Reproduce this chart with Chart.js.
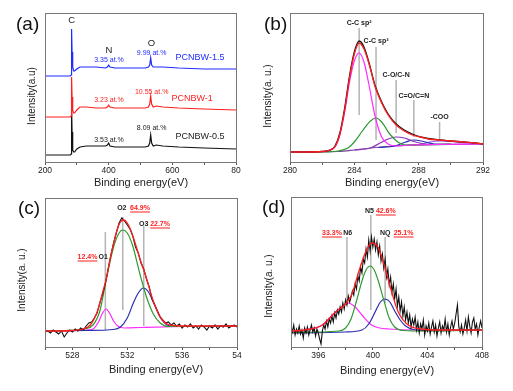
<!DOCTYPE html>
<html lang="en">
<head>
<meta charset="UTF-8">
<title>XPS spectra of PCNBW</title>
<script src="https://cdn.jsdelivr.net/npm/chart.js"></script>
<style>
  body { margin: 0; background: #fff; }
  #fig { position: relative; width: 513px; height: 391px; }
  canvas { position: absolute; }
</style>
</head>
<body>
<div id="fig">
  <canvas id="pa" width="256" height="195" style="left:0;top:0"></canvas>
  <canvas id="pb" width="257" height="195" style="left:256px;top:0"></canvas>
  <canvas id="pc" width="256" height="196" style="left:0;top:195px"></canvas>
  <canvas id="pd" width="257" height="196" style="left:256px;top:195px"></canvas>
</div>
<script>
const FONT = '"Liberation Sans", Arial, sans-serif';

// (a) survey spectra, intensity in arbitrary units
const surveyEnergy = [200, 260, 279, 282, 283, 284, 285, 287, 290, 293, 300, 310, 330, 360, 390, 396, 400, 404, 420, 470, 515, 525, 529, 532, 535, 540, 550, 570, 620, 700, 800];
const survey05 = [7, 7, 7, 8, 30, 55, 30, 12, 10, 10, 13, 15, 16, 16, 16, 17, 19, 16, 15, 15, 15, 16, 19, 27, 19, 16, 17, 16, 15, 14, 13];
const survey1 = [45, 45, 45, 46, 65, 85, 65, 52, 49, 49, 52, 55, 55, 54, 54, 55, 57, 55, 54, 54, 54, 55, 58, 66, 58, 55, 56, 55, 54, 53, 52];
const survey15 = [86, 86, 86, 87, 110, 133, 110, 95, 91, 91, 93, 95, 95, 95, 94, 95, 97, 95, 94, 94, 94, 95, 97, 104, 97, 95, 95, 95, 94, 93, 93];
const surveyTicks = [200, 400, 600, 800];
const surveyTickText = ['200', '400', '600', '80'];

// (b) C 1s
const c1sEnergy = [280, 281, 282, 282.5, 282.8, 283.1, 283.4, 283.7, 284.0, 284.3, 284.6, 284.9, 285.3, 285.7, 286.1, 286.6, 287.1, 287.6, 288.1, 288.6, 289.3, 290.0, 290.8, 291.5, 292];
const c1sRaw = [10, 10, 10.5, 12, 16, 29, 54, 86, 110, 121, 115, 100, 76, 60, 48, 38, 32, 28, 25, 23.5, 22, 21, 20, 19, 18];
const c1sFit = [10, 10, 10.5, 12, 15.5, 28, 52, 84, 108, 119, 113, 99, 75, 59, 47, 37, 31, 27, 25, 23, 22, 21, 20, 19, 18];
const sp2X = [280, 282, 282.5, 282.8, 283.1, 283.4, 283.7, 284.0, 284.3, 284.6, 284.9, 285.3, 285.7, 286.1, 286.6, 287.5, 289, 292];
const sp2Y = [10, 10.5, 12, 15, 27, 50, 80, 101, 109, 100, 78, 45, 25, 18, 16, 17, 17.5, 18];
const sp3X = [282, 283, 283.6, 284.0, 284.5, 285.0, 285.35, 285.7, 286.2, 286.7, 287.2, 288, 290];
const sp3Y = [10, 11, 14, 20, 31, 41, 44, 40, 28, 20, 17, 17.2, 17.7];
const coX = [284, 285, 285.6, 286.1, 286.6, 287.1, 287.6, 288.2, 288.8, 290];
const coY = [12, 14, 19, 23, 25, 24, 21, 18.5, 17.5, 17.7];
const c2oX = [285.5, 286.5, 287.2, 287.7, 288.3, 289.0, 290];
const c2oY = [14.5, 16, 20, 22, 20.5, 18, 17.7];
const cooX = [287, 288, 288.7, 289.3, 290.0, 290.7, 291.5, 292];
const cooY = [16.5, 17.5, 20, 21, 20.5, 19.5, 18.5, 18];
const c1sBaseX = [280, 283, 284, 285, 286, 287, 288, 290, 292];
const c1sBaseY = [10, 10.5, 12, 14, 15.5, 16.5, 17.2, 17.7, 18];
const c1sNames = ['C-C sp²', 'C-C sp³', 'C-O/C-N', 'C=O/C=N', '-COO'];
const c1sPeaks = [284.3, 285.35, 286.6, 287.7, 289.3];
const c1sGuideTop = [134, 115, 82, 62, 40];
const c1sGuideBottom = [47, 22, 29, 25, 22];
const c1sTicks = [280, 284, 288, 292];

// (c) O 1s
const o1sEnergy = [526, 526.2, 526.4, 526.6, 526.8, 527, 527.2, 527.4, 527.6, 527.8,
  528, 528.2, 528.4, 528.6, 528.8, 529, 529.2, 529.4, 529.6, 529.8,
  530, 530.2, 530.4, 530.6, 530.8, 531, 531.2, 531.4, 531.6, 531.8,
  532, 532.2, 532.4, 532.6, 532.8, 533, 533.2, 533.4, 533.6, 533.8,
  534, 534.2, 534.4, 534.6, 534.8, 535, 535.2, 535.4, 535.6, 535.8,
  536, 536.2, 536.4, 536.6, 536.8, 537, 537.2, 537.4, 537.6, 537.8,
  538, 538.2, 538.4, 538.6, 538.8, 539, 539.2, 539.4, 539.6, 539.8, 540];
const o1sRaw = [15, 16, 14, 17, 15, 13, 16, 10, 14, 17,
  15, 18, 16, 19, 17, 21, 24, 25, 29, 34,
  44, 53, 63, 78, 92, 104, 114, 124, 129, 126,
  122, 118, 111, 100, 94, 84, 78, 68, 60, 48,
  42, 36, 30, 27, 24, 25, 22, 24, 21, 23,
  19, 22, 20, 23, 19, 21, 18, 22, 20, 17,
  21, 19, 22, 18, 21, 20, 23, 19, 21, 22, 20];
const o1sFitX = [526, 527, 528, 528.8, 529.3, 529.8, 530.25, 530.5, 530.75, 531.0, 531.25, 531.5, 531.75, 532.0, 532.25, 532.5, 532.75, 533.0, 533.25, 533.5, 533.75, 534.0, 534.25, 534.5, 534.9, 535.4, 536.5, 538, 540];
const o1sFit = [16, 16, 16.5, 18, 22, 35, 57, 70, 88, 103, 117, 125, 127, 124, 117, 107, 96, 85, 75, 64, 52, 42, 34, 28, 23, 21.5, 21, 21, 21];
const o1X = [526, 529, 529.5, 529.9, 530.2, 530.45, 530.7, 531.0, 531.3, 531.8, 533, 536, 540];
const o1Y = [16, 17, 18, 25, 34, 38, 34, 26, 21, 19, 19.5, 20.5, 21];
const o2X = [526, 527.5, 528.8, 529.5, 530.0, 530.5, 531.0, 531.4, 531.67, 532.0, 532.4, 532.9, 533.4, 533.9, 534.4, 535, 536, 540];
const o2Y = [16, 16.5, 18, 22, 36, 70, 100, 114, 117, 114, 101, 74, 50, 33, 24, 20.5, 20.5, 21];
const o3X = [526, 529, 531, 531.5, 532.0, 532.44, 532.8, 533.17, 533.5, 533.9, 534.39, 534.9, 535.5, 537, 540];
const o3Y = [16, 16.5, 17.5, 20, 29, 44, 54, 59, 56, 45, 30, 22, 20.5, 20.5, 21];
const o1sNames = ['O1', 'O2', 'O3'];
const o1sShares = ['12.4%', '64.9%', '22.7%'];
const o1sPeaks = [530.4, 531.67, 533.2];
const o1sGuideTop = [115, 130, 121];
const o1sGuideBottom = [17, 37, 21];
const o1sTicks = [528, 532, 536, 540];
const o1sTickText = ['528', '532', '536', '54'];

// (d) N 1s
const n1sEnergy = [394, 394.1, 394.2, 394.3, 394.4, 394.5, 394.6, 394.7, 394.8, 394.9,
  395, 395.1, 395.2, 395.3, 395.4, 395.5, 395.6, 395.7, 395.8, 395.9,
  396, 396.1, 396.2, 396.3, 396.4, 396.5, 396.6, 396.7, 396.8, 396.9,
  397, 397.1, 397.2, 397.3, 397.4, 397.5, 397.6, 397.7, 397.8, 397.9,
  398, 398.1, 398.2, 398.3, 398.4, 398.5, 398.6, 398.7, 398.8, 398.9,
  399, 399.1, 399.2, 399.3, 399.4, 399.5, 399.6, 399.7, 399.8, 399.9,
  400, 400.1, 400.2, 400.3, 400.4, 400.5, 400.6, 400.7, 400.8, 400.9,
  401, 401.1, 401.2, 401.3, 401.4, 401.5, 401.6, 401.7, 401.8, 401.9,
  402, 402.1, 402.2, 402.3, 402.4, 402.5, 402.6, 402.7, 402.8, 402.9,
  403, 403.1, 403.2, 403.3, 403.4, 403.5, 403.6, 403.7, 403.8, 403.9,
  404, 404.1, 404.2, 404.3, 404.4, 404.5, 404.6, 404.7, 404.8, 404.9,
  405, 405.1, 405.2, 405.3, 405.4, 405.5, 405.6, 405.7, 405.8, 405.9,
  406, 406.1, 406.2, 406.3, 406.4, 406.5, 406.6, 406.7, 406.8, 406.9,
  407, 407.1, 407.2, 407.3, 407.4, 407.5, 407.6, 407.7, 407.8, 407.9, 408];
const n1sRaw = [20, 15, 22, 12, 18, 14, 21, 13, 17, 9,
  19, 14, 20, 12, 17, 22, 15, 19, 11, 18,
  14, 8, 3, 16, 22, 18, 26, 20, 28, 24,
  31, 25, 34, 29, 37, 33, 40, 35, 44, 38,
  47, 42, 51, 45, 50, 56, 52, 63, 58, 71,
  66, 80, 74, 88, 84, 98, 90, 107, 96, 110,
  100, 108, 97, 105, 92, 101, 86, 93, 79, 88,
  70, 78, 62, 70, 55, 63, 48, 58, 41, 50,
  36, 45, 31, 40, 27, 35, 24, 32, 20, 28,
  22, 30, 17, 25, 14, 23, 18, 27, 12, 21,
  16, 24, 13, 20, 26, 15, 22, 11, 19, 25,
  14, 21, 17, 28, 15, 23, 12, 20, 26, 18,
  24, 33, 42, 20, 15, 22, 13, 19, 27, 16,
  30, 21, 14, 25, 29, 18, 23, 12, 20, 26, 19];
const n1sFitX = [394, 395, 396.3, 397.26, 398.0, 398.47, 398.96, 399.44, 399.93, 400.41, 400.89, 401.38, 401.86, 402.59, 403.56, 405, 408];
const n1sFit = [16, 17, 22, 35, 43, 53, 75, 94, 104, 99, 79, 55, 35, 22, 18, 17, 17];
const n6X = [394, 395, 396.3, 397.26, 397.8, 398.2, 398.7, 399.2, 399.9, 400.5, 401.2, 403, 408];
const n6Y = [15, 17, 22, 35, 41, 44, 40, 32, 22, 19, 18, 17, 17];
const n5X = [394, 397.5, 398.0, 398.4, 398.8, 399.2, 399.5, 399.8, 400.1, 400.4, 400.8, 401.2, 401.6, 402.2, 404, 408];
const n5Y = [14.5, 16, 19, 28, 46, 66, 77, 81, 77, 66, 47, 29, 20, 16.5, 16, 17];
const nqX = [394, 398, 399.2, 399.7, 400.2, 400.55, 400.9, 401.25, 401.6, 402.0, 402.4, 403.1, 404, 408];
const nqY = [14, 15, 17, 23, 36, 45, 48, 45, 36, 27, 21, 17, 16.5, 17];
const n1sNames = ['N6', 'N5', 'NQ'];
const n1sShares = ['33.3%', '42.6%', '25.1%'];
const n1sPeaks = [398.1, 399.85, 400.9];
const n1sGuideTop = [110, 132, 110];
const n1sGuideBottom = [42, 37, 44];
const n1sTicks = [396, 400, 404, 408];

const RED = '#ff1f1f', BLUE = '#1f2bff', MAG = '#ff2bff', GREEN = '#2f9a2f', NAVY = '#2b2fb0', GREY = '#b4b4b4';

function pts(xs, ys) { return xs.map((x, i) => ({ x: x, y: ys[i] })); }

function curve(xs, ys, color, width, smooth) {
  return {
    data: pts(xs, ys), borderColor: color, borderWidth: width || 1.2,
    pointRadius: 0, fill: false,
    tension: smooth ? 0.4 : 0,
    cubicInterpolationMode: smooth ? 'monotone' : 'default'
  };
}

function guides(peaks, tops, bottoms) {
  return peaks.map((p, i) => curve([p, p], [tops[i], bottoms[i]], GREY, 1.5));
}

// text, frame and titles drawn over each panel
function notes(cfg) {
  return {
    id: 'notes',
    afterDatasetsDraw(chart) {
      const { ctx, chartArea: a, scales: { x, y } } = chart;
      ctx.save();
      ctx.strokeStyle = '#777';
      ctx.lineWidth = 1;
      ctx.strokeRect(Math.round(a.left) + 0.5, Math.round(a.top) + 0.5, Math.round(a.right - a.left), Math.round(a.bottom - a.top));

      ctx.fillStyle = '#111';
      ctx.textBaseline = 'middle';
      ctx.textAlign = 'left';
      ctx.font = '19px ' + FONT;
      ctx.fillText(cfg.tag, cfg.tagAt[0], cfg.tagAt[1]);

      ctx.textAlign = 'center';
      ctx.font = '11px ' + FONT;
      ctx.fillStyle = '#222';
      ctx.fillText('Binding energy(eV)', cfg.xTitleAt[0], cfg.xTitleAt[1]);

      ctx.save();
      ctx.translate(cfg.yTitleAt[0], cfg.yTitleAt[1]);
      ctx.rotate(-Math.PI / 2);
      ctx.font = '10px ' + FONT;
      ctx.fillText(cfg.yTitle, 0, 0);
      ctx.restore();

      cfg.labels.forEach(l => {
        const px = x.getPixelForValue(l.x), py = y.getPixelForValue(l.y);
        ctx.font = (l.bold ? 'bold ' : '') + l.size + 'px ' + FONT;
        ctx.fillStyle = l.color;
        ctx.textAlign = 'center';
        ctx.fillText(l.text, px, py);
        if (l.under) {
          const w = ctx.measureText(l.text).width;
          ctx.fillRect(px - w / 2, py + l.size * 0.5, w, 1);
        }
      });
      ctx.restore();
    }
  };
}

function panel(id, cfg) {
  const cv = document.getElementById(id);
  const W = cv.width, H = cv.height;
  const [left, top, right, bottom] = cfg.area;
  return new Chart(cv, {
    type: 'line',
    data: { datasets: cfg.datasets },
    options: {
      responsive: false,
      animation: false,
      events: [],
      layout: { padding: { left: 0, top: top, right: W - right, bottom: 0 } },
      plugins: { legend: { display: false }, tooltip: { enabled: false } },
      scales: {
        x: {
          type: 'linear', min: cfg.min, max: cfg.max,
          afterFit: s => { s.height = H - bottom; },
          ticks: {
            stepSize: cfg.step, autoSkip: false, maxRotation: 0, padding: 1,
            color: '#222', font: { family: FONT, size: 8.5 },
            callback: v => {
              const i = cfg.ticks.indexOf(v);
              return i < 0 ? '' : cfg.tickText[i];
            }
          },
          grid: { drawOnChartArea: false, tickLength: 3, color: '#555' },
          border: { color: '#666' }
        },
        y: {
          min: 0, max: bottom - top,
          afterFit: s => { s.width = left; },
          ticks: { display: false },
          grid: { display: false },
          border: { color: '#666' }
        }
      }
    },
    plugins: [notes(cfg)]
  });
}

function lab(text, x, y, color, size, bold, under) {
  return { text, x, y, color, size, bold, under };
}

// (a)
panel('pa', {
  area: [45, 13, 236, 162], min: 200, max: 800, step: 100,
  ticks: surveyTicks, tickText: surveyTickText,
  tag: '(a)', tagAt: [16, 25], xTitleAt: [141, 183], yTitleAt: [32, 96], yTitle: 'Intensity(a.u)',
  datasets: [
    curve(surveyEnergy, survey15, BLUE, 1.2),
    curve(surveyEnergy, survey1, RED, 1.2),
    curve(surveyEnergy, survey05, '#111', 1.2)
  ],
  labels: [
    lab('C', 284, 142, '#222', 9.5),
    lab('N', 401, 112, '#222', 9.5),
    lab('O', 534, 119, '#222', 9.5),
    lab('3.35 at.%', 401, 102, BLUE, 7),
    lab('9.99 at.%', 535, 109, BLUE, 7),
    lab('PCNBW-1.5', 687, 104, BLUE, 9),
    lab('3.23 at.%', 401, 62, RED, 7),
    lab('10.55 at.%', 535, 70, RED, 7),
    lab('PCNBW-1', 662, 63, RED, 9),
    lab('3.53 at.%', 401, 22, '#222', 7),
    lab('8.09 at.%', 535, 34, '#222', 7),
    lab('PCNBW-0.5', 687, 25, '#222', 9)
  ]
});

// (b)
panel('pb', {
  area: [34, 13, 227, 162], min: 280, max: 292, step: 2,
  ticks: c1sTicks, tickText: c1sTicks.map(String),
  tag: '(b)', tagAt: [8, 25], xTitleAt: [136, 183], yTitleAt: [12, 96], yTitle: 'Intensity(a. u.)',
  datasets: [
    curve(c1sEnergy, c1sFit, RED, 1.3, true),
    curve(c1sEnergy, c1sRaw, '#111', 1.3, true),
    curve(sp2X, sp2Y, MAG, 1.2, true),
    curve(sp3X, sp3Y, GREEN, 1.2, true),
    curve(coX, coY, '#8a35b8', 1.2, true),
    curve(c2oX, c2oY, NAVY, 1.2, true),
    curve(cooX, cooY, '#9a5cf0', 1.2, true),
    curve(c1sBaseX, c1sBaseY, '#7b3fa0', 1.2, true)
  ].concat(guides(c1sPeaks, c1sGuideTop, c1sGuideBottom)),
  labels: c1sNames.map((n, i) => lab(n, c1sPeaks[i], [139, 121, 87, 66, 45][i], '#222', 7, true))
});

// (c)
panel('pc', {
  area: [45, 3, 237, 152], min: 526, max: 540, step: 2,
  ticks: o1sTicks, tickText: o1sTickText,
  tag: '(c)', tagAt: [18, 14], xTitleAt: [156, 175], yTitleAt: [22, 85], yTitle: 'Intensity(a. u.)',
  datasets: [
    curve(o1sFitX, o1sFit, RED, 1.3, true),
    curve(o1sEnergy, o1sRaw, '#111', 1.1),
    curve(o2X, o2Y, GREEN, 1.2, true),
    curve(o3X, o3Y, NAVY, 1.2, true),
    curve(o1X, o1Y, MAG, 1.2, true)
  ].concat(guides(o1sPeaks, o1sGuideTop, o1sGuideBottom)),
  labels: [
    lab(o1sShares[0], 529.1, 90, RED, 7, true, true),
    lab(o1sNames[0], 530.25, 90, '#222', 7, true),
    lab(o1sNames[1], 531.6, 139, '#222', 7, true),
    lab(o1sShares[1], 532.93, 139, RED, 7, true, true),
    lab(o1sNames[2], 533.2, 123, '#222', 7, true),
    lab(o1sShares[2], 534.39, 123, RED, 7, true, true)
  ]
});

// (d)
panel('pd', {
  area: [35, 2, 226, 152], min: 394, max: 408, step: 2,
  ticks: n1sTicks, tickText: n1sTicks.map(String),
  tag: '(d)', tagAt: [6, 13], xTitleAt: [131, 176], yTitleAt: [13, 91], yTitle: 'Intensity(a. u.)',
  datasets: [
    curve(n1sFitX, n1sFit, RED, 1.3, true),
    curve(n1sEnergy, n1sRaw, '#111', 1.1),
    curve(n5X, n5Y, GREEN, 1.2, true),
    curve(nqX, nqY, NAVY, 1.2, true),
    curve(n6X, n6Y, MAG, 1.2, true)
  ].concat(guides(n1sPeaks, n1sGuideTop, n1sGuideBottom)),
  labels: [
    lab(n1sShares[0], 397.0, 114, RED, 7, true, true),
    lab(n1sNames[0], 398.15, 114, '#222', 7, true),
    lab(n1sNames[1], 399.75, 136, '#222', 7, true),
    lab(n1sShares[1], 400.95, 136, RED, 7, true, true),
    lab(n1sNames[2], 400.9, 114, '#222', 7, true),
    lab(n1sShares[2], 402.25, 114, RED, 7, true, true)
  ]
});
</script>
</body>
</html>
